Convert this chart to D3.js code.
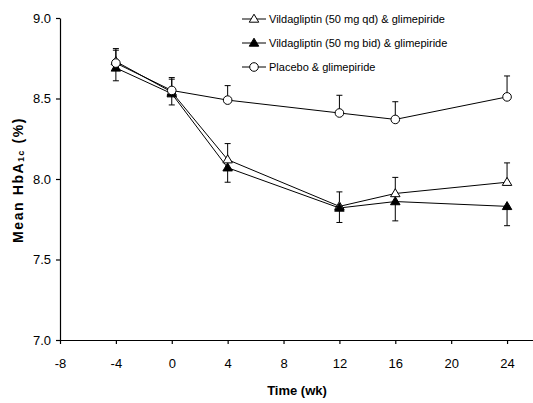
<!DOCTYPE html>
<html>
<head>
<meta charset="utf-8">
<script src="https://cdn.jsdelivr.net/npm/d3@7"></script>
<style>
  body { margin: 0; background: #fff; }
  svg { display: block; font-family: Arial, "Liberation Sans", sans-serif; }
</style>
</head>
<body>
<svg id="chart" width="533" height="403"></svg>
<script>
// Study weeks
const weeks = [-4, 0, 4, 12, 16, 24];

// Mean HbA1c (%) per treatment group, with the error-bar extent (SE)
const qdMean   = [8.73, 8.54, 8.12, 7.83, 7.91, 7.98];
const qdErr    = [0.08, 0.08, 0.10, 0.09, 0.10, 0.12];
const bidMean  = [8.69, 8.53, 8.07, 7.82, 7.86, 7.83];
const bidErr   = [0.08, 0.07, 0.09, 0.09, 0.12, 0.12];
const pboMean  = [8.72, 8.55, 8.49, 8.41, 8.37, 8.51];
const pboErr   = [0.08, 0.08, 0.09, 0.11, 0.11, 0.13];

const seriesNames = [
  "Vildagliptin (50 mg qd) & glimepiride",
  "Vildagliptin (50 mg bid) & glimepiride",
  "Placebo & glimepiride"
];

const xTicks = [-8, -4, 0, 4, 8, 12, 16, 20, 24];
const yTicks = [7.0, 7.5, 8.0, 8.5, 9.0];

// dir: +1 error bar drawn upward, -1 drawn downward
const series = [
  { name: seriesNames[0], mean: qdMean,  err: qdErr,  dir:  1, shape: "tri",    fill: "#fff" },
  { name: seriesNames[1], mean: bidMean, err: bidErr, dir: -1, shape: "tri",    fill: "#000" },
  { name: seriesNames[2], mean: pboMean, err: pboErr, dir:  1, shape: "circle", fill: "#fff" }
];

const svg = d3.select("#chart");
const x = d3.scaleLinear().domain([-8, 26]).range([60, 535]);
const y = d3.scaleLinear().domain([7, 9]).range([340, 18]);

// Axes
const xAxis = svg.append("g")
  .attr("transform", `translate(0,${y(7)})`)
  .call(d3.axisBottom(x).tickValues(xTicks).tickSize(4).tickPadding(15).tickSizeOuter(0)
    .tickFormat(d => String(d)));
const yAxis = svg.append("g")
  .attr("transform", `translate(${x(-8)},0)`)
  .call(d3.axisLeft(y).tickValues(yTicks).tickSize(4).tickPadding(5).tickSizeOuter(0)
    .tickFormat(d => d.toFixed(1)));
[xAxis, yAxis].forEach(g => {
  g.selectAll("text").attr("font-size", 13).attr("fill", "#000").attr("font-family", "Arial, 'Liberation Sans', sans-serif");
  g.selectAll("line, path").attr("stroke", "#000").attr("stroke-width", 1.2);
});

// Axis titles
svg.append("text")
  .attr("x", 297).attr("y", 395)
  .attr("text-anchor", "middle")
  .attr("font-size", 13).attr("font-weight", "bold")
  .text("Time (wk)");

const yt = svg.append("text")
  .attr("transform", "translate(23,180) rotate(-90)")
  .attr("text-anchor", "middle")
  .attr("font-size", 14).attr("font-weight", "bold")
  .attr("letter-spacing", 1.6);
yt.append("tspan").text("Mean HbA");
yt.append("tspan").attr("font-size", 8.5).attr("dy", 1).text("1c");
yt.append("tspan").attr("dy", -1).text(" (%)");

function marker(g, shape, fill, cx, cy) {
  if (shape === "circle") {
    g.append("circle").attr("cx", cx).attr("cy", cy).attr("r", 4.3)
      .attr("fill", fill).attr("stroke", "#000").attr("stroke-width", 1);
  } else {
    const h = 8, w = 9.5;
    g.append("path")
      .attr("d", `M${cx},${cy - h * 0.6}L${cx + w / 2},${cy + h * 0.4}L${cx - w / 2},${cy + h * 0.4}Z`)
      .attr("fill", fill).attr("stroke", "#000").attr("stroke-width", 1);
  }
}

const line = d3.line().x((d, i) => x(weeks[i])).y(d => y(d));
const plot = svg.append("g");

// Error bars (one-sided per group)
series.forEach(s => {
  const g = plot.append("g");
  s.mean.forEach((m, i) => {
    const cx = x(weeks[i]);
    const yEnd = y(m + s.dir * s.err[i]);
    g.append("line").attr("x1", cx).attr("x2", cx).attr("y1", y(m)).attr("y2", yEnd)
      .attr("stroke", "#000").attr("stroke-width", 1);
    g.append("line").attr("x1", cx - 3).attr("x2", cx + 3).attr("y1", yEnd).attr("y2", yEnd)
      .attr("stroke", "#000").attr("stroke-width", 1);
  });
});

// Lines, then markers on top (filled triangles above open ones, circles last)
series.forEach(s => {
  plot.append("path").datum(s.mean).attr("d", line)
    .attr("fill", "none").attr("stroke", "#000").attr("stroke-width", 1);
});
[series[0], series[1], series[2]].forEach(s => {
  const g = plot.append("g");
  s.mean.forEach((m, i) => marker(g, s.shape, s.fill, x(weeks[i]), y(m)));
});

// Legend
const legend = svg.append("g");
series.forEach((s, i) => {
  const ly = 19 + i * 24;
  legend.append("line").attr("x1", 242).attr("x2", 266).attr("y1", ly).attr("y2", ly)
    .attr("stroke", "#000").attr("stroke-width", 1);
  marker(legend, s.shape, s.fill, 254, ly);
  legend.append("text").attr("x", 269).attr("y", ly + 4)
    .attr("font-size", 11).attr("fill", "#000").text(s.name);
});
</script>
</body>
</html>
